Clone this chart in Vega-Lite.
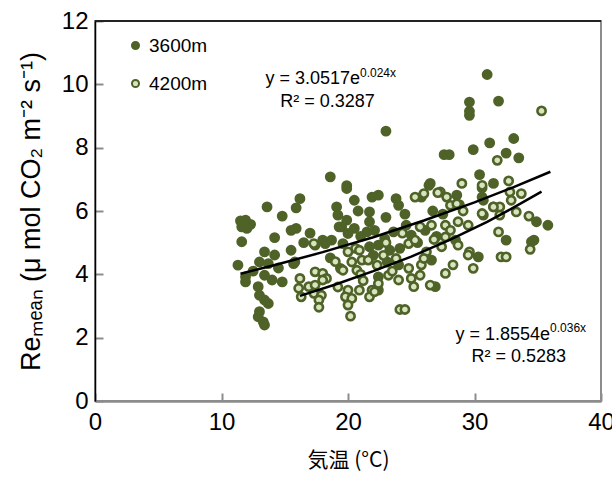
{
  "$schema": "https://vega.github.io/schema/vega-lite/v6.json",
  "width": 506,
  "height": 380,
  "autosize": {"type": "none"},
  "padding": {"left": 95, "top": 21, "right": 11, "bottom": 78},
  "background": "white",
  "config": {"view": {"stroke": "#8c8c8c", "strokeWidth": 2}, "font": "Liberation Sans"},
  "datasets": {
    "points": [
      {"site":"3600m","temp":11.5,"re":5.69},{"site":"3600m","temp":11.9,"re":5.71},{"site":"3600m","temp":12.3,"re":5.58},{"site":"3600m","temp":11.6,"re":5.5},{"site":"3600m","temp":12.0,"re":5.45},{"site":"3600m","temp":11.6,"re":5.03},{"site":"3600m","temp":11.3,"re":4.29},{"site":"3600m","temp":11.9,"re":3.92},{"site":"3600m","temp":11.9,"re":3.76},{"site":"3600m","temp":13.6,"re":6.13},{"site":"3600m","temp":14.8,"re":5.84},{"site":"3600m","temp":15.5,"re":5.39},{"site":"3600m","temp":14.2,"re":5.16},{"site":"3600m","temp":13.4,"re":4.71},{"site":"3600m","temp":14.2,"re":4.61},{"site":"3600m","temp":13.0,"re":4.39},{"site":"3600m","temp":13.7,"re":4.34},{"site":"3600m","temp":13.4,"re":3.97},{"site":"3600m","temp":14.0,"re":3.82},{"site":"3600m","temp":14.8,"re":3.76},{"site":"3600m","temp":12.9,"re":3.61},{"site":"3600m","temp":13.0,"re":3.34},{"site":"3600m","temp":13.4,"re":3.19},{"site":"3600m","temp":13.7,"re":3.08},{"site":"3600m","temp":13.0,"re":2.82},{"site":"3600m","temp":12.9,"re":2.66},{"site":"3600m","temp":13.3,"re":2.5},{"site":"3600m","temp":13.4,"re":2.4},{"site":"3600m","temp":15.5,"re":4.76},{"site":"3600m","temp":15.7,"re":4.34},{"site":"3600m","temp":15.9,"re":6.1},{"site":"3600m","temp":18.6,"re":7.08},{"site":"3600m","temp":19.9,"re":6.71},{"site":"3600m","temp":16.2,"re":6.39},{"site":"3600m","temp":20.5,"re":6.34},{"site":"3600m","temp":19.1,"re":6.13},{"site":"3600m","temp":19.2,"re":5.87},{"site":"3600m","temp":19.9,"re":5.71},{"site":"3600m","temp":19.5,"re":5.5},{"site":"3600m","temp":20.5,"re":5.45},{"site":"3600m","temp":20.0,"re":5.29},{"site":"3600m","temp":15.9,"re":5.45},{"site":"3600m","temp":18.0,"re":5.08},{"site":"3600m","temp":18.7,"re":5.08},{"site":"3600m","temp":18.2,"re":4.97},{"site":"3600m","temp":17.4,"re":4.92},{"site":"3600m","temp":19.6,"re":4.97},{"site":"3600m","temp":18.6,"re":4.52},{"site":"3600m","temp":15.8,"re":4.39},{"site":"3600m","temp":19.4,"re":4.19},{"site":"3600m","temp":19.9,"re":6.8},{"site":"3600m","temp":19.9,"re":3.34},{"site":"3600m","temp":21.9,"re":6.44},{"site":"3600m","temp":22.4,"re":6.5},{"site":"3600m","temp":23.8,"re":6.39},{"site":"3600m","temp":24.0,"re":6.18},{"site":"3600m","temp":21.7,"re":5.97},{"site":"3600m","temp":26.4,"re":6.81},{"site":"3600m","temp":22.1,"re":5.39},{"site":"3600m","temp":21.5,"re":5.34},{"site":"3600m","temp":22.9,"re":5.13},{"site":"3600m","temp":22.4,"re":4.92},{"site":"3600m","temp":21.7,"re":4.87},{"site":"3600m","temp":23.6,"re":5.34},{"site":"3600m","temp":24.6,"re":5.55},{"site":"3600m","temp":25.0,"re":5.24},{"site":"3600m","temp":26.1,"re":5.39},{"site":"3600m","temp":23.3,"re":4.76},{"site":"3600m","temp":24.1,"re":4.82},{"site":"3600m","temp":26.6,"re":4.45},{"site":"3600m","temp":23.1,"re":4.39},{"site":"3600m","temp":22.4,"re":3.92},{"site":"3600m","temp":22.4,"re":3.5},{"site":"3600m","temp":23.0,"re":8.52},{"site":"3600m","temp":21.7,"re":5.66},{"site":"3600m","temp":19.3,"re":5.5},{"site":"3600m","temp":25.8,"re":6.44},{"site":"3600m","temp":26.7,"re":6.0},{"site":"3600m","temp":26.9,"re":3.61},{"site":"3600m","temp":28.6,"re":6.5},{"site":"3600m","temp":31.5,"re":6.87},{"site":"3600m","temp":30.6,"re":6.44},{"site":"3600m","temp":31.5,"re":6.13},{"site":"3600m","temp":28.5,"re":5.08},{"site":"3600m","temp":30.3,"re":4.55},{"site":"3600m","temp":30.4,"re":7.15},{"site":"3600m","temp":30.6,"re":6.73},{"site":"3600m","temp":29.9,"re":7.94},{"site":"3600m","temp":31.2,"re":8.15},{"site":"3600m","temp":33.1,"re":8.29},{"site":"3600m","temp":32.5,"re":7.83},{"site":"3600m","temp":33.5,"re":7.68},{"site":"3600m","temp":27.6,"re":7.78},{"site":"3600m","temp":28.0,"re":7.78},{"site":"3600m","temp":29.6,"re":9.44},{"site":"3600m","temp":29.6,"re":9.15},{"site":"3600m","temp":29.6,"re":9.02},{"site":"3600m","temp":31.9,"re":9.47},{"site":"3600m","temp":31.0,"re":10.31},{"site":"3600m","temp":26.5,"re":6.87},{"site":"3600m","temp":30.7,"re":6.34},{"site":"3600m","temp":34.9,"re":5.66},{"site":"3600m","temp":35.8,"re":5.55},{"site":"3600m","temp":32.5,"re":5.08},{"site":"3600m","temp":34.7,"re":5.08},{"site":"3600m","temp":34.5,"re":5.03},{"site":"3600m","temp":24.5,"re":5.9},{"site":"3600m","temp":25.5,"re":5.0},{"site":"3600m","temp":27.0,"re":5.2},{"site":"3600m","temp":23.0,"re":5.8},{"site":"3600m","temp":21.0,"re":5.2},{"site":"3600m","temp":17.0,"re":5.3},{"site":"3600m","temp":22.0,"re":4.6},{"site":"3600m","temp":24.0,"re":4.3},{"site":"3600m","temp":27.5,"re":5.9},{"site":"3600m","temp":28.8,"re":6.2},{"site":"3600m","temp":20.8,"re":6.0},{"site":"3600m","temp":16.5,"re":5.0},{"site":"3600m","temp":12.5,"re":4.1},{"site":"3600m","temp":14.5,"re":4.2},
      {"site":"4200m","temp":17.3,"re":4.97},{"site":"4200m","temp":20.6,"re":4.82},{"site":"4200m","temp":20.0,"re":4.71},{"site":"4200m","temp":20.9,"re":4.76},{"site":"4200m","temp":21.1,"re":4.45},{"site":"4200m","temp":20.3,"re":4.39},{"site":"4200m","temp":19.6,"re":4.13},{"site":"4200m","temp":20.7,"re":4.13},{"site":"4200m","temp":17.4,"re":4.08},{"site":"4200m","temp":18.0,"re":4.03},{"site":"4200m","temp":18.3,"re":3.87},{"site":"4200m","temp":16.2,"re":3.87},{"site":"4200m","temp":18.0,"re":3.82},{"site":"4200m","temp":16.1,"re":3.56},{"site":"4200m","temp":16.9,"re":3.61},{"site":"4200m","temp":17.4,"re":3.66},{"site":"4200m","temp":16.3,"re":3.29},{"site":"4200m","temp":17.3,"re":3.4},{"site":"4200m","temp":17.9,"re":3.34},{"site":"4200m","temp":17.7,"re":3.19},{"site":"4200m","temp":17.7,"re":2.96},{"site":"4200m","temp":20.0,"re":3.5},{"site":"4200m","temp":19.8,"re":3.29},{"site":"4200m","temp":20.3,"re":3.24},{"site":"4200m","temp":20.0,"re":3.03},{"site":"4200m","temp":20.2,"re":2.68},{"site":"4200m","temp":20.9,"re":3.5},{"site":"4200m","temp":26.0,"re":6.55},{"site":"4200m","temp":25.3,"re":6.44},{"site":"4200m","temp":26.6,"re":5.55},{"site":"4200m","temp":25.7,"re":5.5},{"site":"4200m","temp":24.8,"re":4.97},{"site":"4200m","temp":25.3,"re":5.08},{"site":"4200m","temp":26.2,"re":4.71},{"site":"4200m","temp":21.6,"re":4.45},{"site":"4200m","temp":22.3,"re":4.29},{"site":"4200m","temp":24.8,"re":4.19},{"site":"4200m","temp":25.7,"re":3.97},{"site":"4200m","temp":25.0,"re":3.87},{"site":"4200m","temp":24.0,"re":3.82},{"site":"4200m","temp":23.2,"re":3.97},{"site":"4200m","temp":22.4,"re":3.71},{"site":"4200m","temp":21.9,"re":3.5},{"site":"4200m","temp":21.7,"re":3.29},{"site":"4200m","temp":25.2,"re":3.61},{"site":"4200m","temp":26.5,"re":3.66},{"site":"4200m","temp":24.1,"re":2.89},{"site":"4200m","temp":24.5,"re":2.89},{"site":"4200m","temp":22.1,"re":3.45},{"site":"4200m","temp":29.0,"re":6.87},{"site":"4200m","temp":27.3,"re":6.6},{"site":"4200m","temp":27.8,"re":6.44},{"site":"4200m","temp":30.6,"re":6.81},{"site":"4200m","temp":28.1,"re":6.18},{"site":"4200m","temp":29.1,"re":6.0},{"site":"4200m","temp":30.7,"re":5.87},{"site":"4200m","temp":32.0,"re":5.87},{"site":"4200m","temp":27.7,"re":5.55},{"site":"4200m","temp":28.1,"re":5.39},{"site":"4200m","temp":28.7,"re":5.66},{"site":"4200m","temp":29.5,"re":5.55},{"site":"4200m","temp":27.7,"re":5.18},{"site":"4200m","temp":27.4,"re":4.87},{"site":"4200m","temp":28.7,"re":4.92},{"site":"4200m","temp":29.6,"re":4.71},{"site":"4200m","temp":31.9,"re":5.34},{"site":"4200m","temp":32.1,"re":4.55},{"site":"4200m","temp":29.9,"re":4.19},{"site":"4200m","temp":27.7,"re":4.03},{"site":"4200m","temp":27.1,"re":6.58},{"site":"4200m","temp":28.6,"re":6.23},{"site":"4200m","temp":31.8,"re":7.6},{"site":"4200m","temp":32.7,"re":6.95},{"site":"4200m","temp":32.0,"re":6.13},{"site":"4200m","temp":31.5,"re":6.13},{"site":"4200m","temp":30.6,"re":5.92},{"site":"4200m","temp":32.8,"re":6.6},{"site":"4200m","temp":33.7,"re":6.55},{"site":"4200m","temp":32.9,"re":6.34},{"site":"4200m","temp":33.3,"re":5.97},{"site":"4200m","temp":34.3,"re":5.84},{"site":"4200m","temp":34.4,"re":4.79},{"site":"4200m","temp":32.5,"re":4.55},{"site":"4200m","temp":35.3,"re":9.16},{"site":"4200m","temp":29.5,"re":4.61},{"site":"4200m","temp":22.8,"re":4.6},{"site":"4200m","temp":23.5,"re":4.1},{"site":"4200m","temp":21.0,"re":4.0},{"site":"4200m","temp":19.0,"re":4.4},{"site":"4200m","temp":23.0,"re":5.0},{"site":"4200m","temp":24.3,"re":5.3},{"site":"4200m","temp":26.8,"re":5.1},{"site":"4200m","temp":28.3,"re":4.3},{"site":"4200m","temp":25.8,"re":4.3},{"site":"4200m","temp":19.2,"re":3.6},{"site":"4200m","temp":21.2,"re":3.8},{"site":"4200m","temp":26.0,"re":4.5},{"site":"4200m","temp":23.8,"re":4.5}
    ],
    "trends": [
      {"site":"3600m","temp":11.5,"re":4.02},{"site":"3600m","temp":14,"re":4.27},{"site":"3600m","temp":18,"re":4.70},{"site":"3600m","temp":22,"re":5.17},{"site":"3600m","temp":26,"re":5.70},{"site":"3600m","temp":30,"re":6.27},{"site":"3600m","temp":33,"re":6.74},{"site":"3600m","temp":36,"re":7.24},
      {"site":"4200m","temp":16.2,"re":3.32},{"site":"4200m","temp":19,"re":3.68},{"site":"4200m","temp":22,"re":4.10},{"site":"4200m","temp":25,"re":4.56},{"site":"4200m","temp":28,"re":5.08},{"site":"4200m","temp":31,"re":5.66},{"site":"4200m","temp":33,"re":6.09},{"site":"4200m","temp":35.3,"re":6.61}
    ]
  },
  "layer": [
    {
      "data": {"name": "points"},
      "mark": {"type": "point", "shape": "circle", "filled": true, "size": 68, "strokeWidth": 2.6, "stroke": "#4F6228", "opacity": 1},
      "encoding": {
        "x": {"field": "temp", "type": "quantitative", "scale": {"domain": [0, 40], "nice": false},
          "axis": {"values": [0, 10, 20, 30, 40], "title": "気温 (°C)", "titleFont": "Noto Sans CJK JP", "titleFontSize": 21, "titleFontWeight": "normal", "titleColor": "black", "titlePadding": 15,
            "labelFontSize": 24, "labelColor": "black", "labelFont": "Liberation Sans", "labelPadding": 17, "labelFlush": false, "labelOverlap": false,
            "tickSize": -8, "tickColor": "#8c8c8c", "tickWidth": 2, "domainColor": "#8c8c8c", "domainWidth": 2.5, "grid": false}},
        "y": {"field": "re", "type": "quantitative", "scale": {"domain": [0, 12], "nice": false},
          "axis": {"values": [0, 2, 4, 6, 8, 10, 12], "title": "Reₘₑₐₙ (μ mol CO₂ m⁻² s⁻¹)", "titleFont": "Liberation Sans", "titleFontSize": 27, "titleFontWeight": "normal", "titleColor": "black", "titlePadding": 16,
            "labelFontSize": 24, "labelColor": "black", "labelFont": "Liberation Sans", "labelPadding": 15, "labelFlush": false, "labelOverlap": false,
            "tickSize": -8, "tickColor": "#8c8c8c", "tickWidth": 2, "domainColor": "black", "domainWidth": 1.5, "grid": false}},
        "fill": {"field": "site", "type": "nominal", "scale": {"domain": ["3600m", "4200m"], "range": ["#4F6228", "#D7E4BD"]},
          "legend": {"title": null, "orient": "none", "legendX": 31, "legendY": 15, "padding": 0, "symbolType": "circle", "symbolSize": 50, "symbolStrokeColor": "#4F6228", "symbolStrokeWidth": 2, "symbolOpacity": 1,
            "labelFontSize": 19, "labelFont": "Liberation Sans", "labelColor": "black", "labelOffset": 4, "rowPadding": 18}}
      }
    },
    {
      "data": {"name": "trends"},
      "mark": {"type": "line", "color": "black", "strokeWidth": 2.5},
      "encoding": {"x": {"field": "temp", "type": "quantitative"}, "y": {"field": "re", "type": "quantitative"}, "detail": {"field": "site"}}
    },
    {
      "data": {"values": [{}]},
      "mark": {"type": "rule", "color": "black", "strokeWidth": 1.5},
      "encoding": {"y": {"datum": 12}}
    },
    {
      "data": {"values": [{}]},
      "mark": {"type": "text", "text": "y = 3.0517e", "align": "right", "baseline": "alphabetic", "fontSize": 18, "font": "Liberation Sans", "color": "black"},
      "encoding": {"x": {"datum": 20.95}, "y": {"datum": 10.02}}
    },
    {
      "data": {"values": [{}]},
      "mark": {"type": "text", "text": "0.024x", "align": "left", "baseline": "alphabetic", "fontSize": 12, "font": "Liberation Sans", "color": "black"},
      "encoding": {"x": {"datum": 20.95}, "y": {"datum": 10.22}}
    },
    {
      "data": {"values": [{}]},
      "mark": {"type": "text", "text": "R² = 0.3287", "align": "center", "baseline": "alphabetic", "fontSize": 18, "font": "Liberation Sans", "color": "black"},
      "encoding": {"x": {"datum": 18.38}, "y": {"datum": 9.27}}
    },
    {
      "data": {"values": [{}]},
      "mark": {"type": "text", "text": "y = 1.8554e", "align": "right", "baseline": "alphabetic", "fontSize": 18, "font": "Liberation Sans", "color": "black"},
      "encoding": {"x": {"datum": 35.97}, "y": {"datum": 1.92}}
    },
    {
      "data": {"values": [{}]},
      "mark": {"type": "text", "text": "0.036x", "align": "left", "baseline": "alphabetic", "fontSize": 12, "font": "Liberation Sans", "color": "black"},
      "encoding": {"x": {"datum": 35.97}, "y": {"datum": 2.18}}
    },
    {
      "data": {"values": [{}]},
      "mark": {"type": "text", "text": "R² = 0.5283", "align": "center", "baseline": "alphabetic", "fontSize": 18, "font": "Liberation Sans", "color": "black"},
      "encoding": {"x": {"datum": 33.5}, "y": {"datum": 1.23}}
    }
  ]
}
